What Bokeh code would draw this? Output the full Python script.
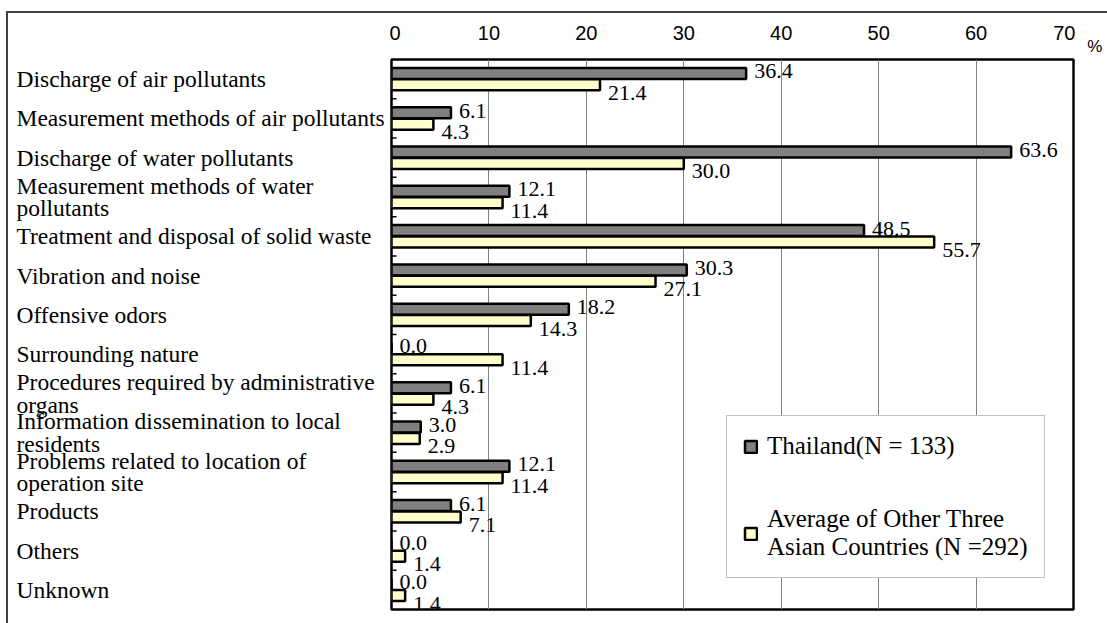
from bokeh.plotting import figure
from bokeh.models import (ColumnDataSource, Range1d, FixedTicker, LabelSet,
                          Legend, LegendItem, LinearAxis, Grid)
from bokeh.layouts import row
from bokeh.transform import dodge
from bokeh.core.properties import value
from bokeh.embed import file_html
from bokeh.resources import INLINE

# Survey items (top to bottom)
categories = [
    "Discharge of air pollutants",
    "Measurement methods of air pollutants",
    "Discharge of water pollutants",
    "Measurement methods of water\npollutants",
    "Treatment and disposal of solid waste",
    "Vibration and noise",
    "Offensive odors",
    "Surrounding nature",
    "Procedures required by administrative\norgans",
    "Information dissemination to local\nresidents",
    "Problems related to location of\noperation site",
    "Products",
    "Others",
    "Unknown",
]
# Share of respondents, %
thailand = [36.4, 6.1, 63.6, 12.1, 48.5, 30.3, 18.2, 0.0, 6.1, 3.0, 12.1, 6.1, 0.0, 0.0]
other_three = [21.4, 4.3, 30.0, 11.4, 55.7, 27.1, 14.3, 11.4, 4.3, 2.9, 11.4, 7.1, 1.4, 1.4]
x_ticks = [0, 10, 20, 30, 40, 50, 60, 70]
unit_label = "%"

thai_name = "Thailand(N = 133)"
other_name = "Average of Other Three\nAsian Countries (N =292)"

serif = "Liberation Serif"
sans = "Liberation Sans Narrow, Liberation Sans"
H = 610
n = len(categories)
src = ColumnDataSource(dict(
    pos=[i + 0.5 for i in range(n)],
    cat=categories,
    thai=thailand,
    other=other_three,
    thai_txt=[f"{v:.1f}" for v in thailand],
    other_txt=[f"{v:.1f}" for v in other_three],
))
bounds = ColumnDataSource(dict(b=list(range(1, n))))

y_range = Range1d(n, 0)
TOP, BOTTOM = 46, 14


def bare_axis(ax, standoff, size):
    ax.axis_line_color = None
    ax.major_tick_line_color = None
    ax.major_tick_in = 0
    ax.major_tick_out = 0
    ax.minor_tick_line_color = None
    ax.major_label_standoff = standoff
    ax.major_label_text_font = sans
    ax.major_label_text_font_size = size
    ax.major_label_text_color = "black"
    return ax


# ---- item names column (left aligned) ----
names = figure(width=381, height=H, output_backend="svg", toolbar_location=None,
               x_range=Range1d(0, 1), y_range=y_range,
               x_axis_location=None, y_axis_location=None,
               min_border_left=0, min_border_right=0,
               min_border_top=TOP, min_border_bottom=BOTTOM)
names.grid.visible = False
names.outline_line_color = None
names.text(x=0, y="pos", text="cat", source=src, x_offset=8,
           text_align="left", text_baseline="middle", text_line_height=0.87,
           text_font=value(serif), text_font_size="23.5px", text_color="black")

# ---- bar chart ----
p = figure(width=686, height=H, output_backend="svg", toolbar_location=None,
           x_range=Range1d(0, 70), y_range=y_range,
           x_axis_location=None, y_axis_location=None,
           min_border_left=2, min_border_top=TOP, min_border_right=2,
           min_border_bottom=BOTTOM)
p.grid.visible = False
p.background_fill_color = "white"
p.outline_line_color = "black"
p.outline_line_width = 2.5

# value axis along the top
p.add_layout(bare_axis(LinearAxis(ticker=FixedTicker(ticks=x_ticks)), 20, "20px"), "above")

p.add_layout(Grid(dimension=0, ticker=FixedTicker(ticks=x_ticks[1:-1]),
                  grid_line_color="#808080", grid_line_width=1))

# short ticks on the left edge between items
p.ray(x=0, y="b", source=bounds, length=5, length_units="screen", angle=0,
      line_color="black", line_width=1.5)

r_thai = p.hbar(y=dodge("pos", -0.145, range=y_range), right="thai", left=0, height=0.28,
                source=src, fill_color="#808080", line_color="black", line_width=2.5)
r_other = p.hbar(y=dodge("pos", 0.145, range=y_range), right="other", left=0, height=0.28,
                 source=src, fill_color="#FFFFCC", line_color="black", line_width=2.5)

# value labels
p.add_layout(LabelSet(x="thai", y=dodge("pos", -0.145, range=y_range), text="thai_txt",
                      source=src, x_offset=8, y_offset=2, text_baseline="middle",
                      text_font=serif, text_font_size="22px", text_color="black"))
p.add_layout(LabelSet(x="other", y=dodge("pos", 0.145, range=y_range), text="other_txt",
                      source=src, x_offset=8, y_offset=-8, text_baseline="middle",
                      text_font=serif, text_font_size="22px", text_color="black"))

legend = Legend(items=[LegendItem(label=thai_name, renderers=[r_thai]),
                       LegendItem(label=other_name, renderers=[r_other])],
                location=(335, 31))
legend.border_line_color = "#808080"
legend.border_line_width = 1
legend.background_fill_color = "white"
legend.background_fill_alpha = 1
legend.padding = 16
legend.spacing = 45
legend.glyph_width = 15
legend.glyph_height = 15
legend.label_standoff = 9
legend.label_text_font = serif
legend.label_text_font_size = "25px"
legend.label_text_line_height = 1.62
legend.label_text_color = "black"
p.add_layout(legend)

# ---- unit marker beside the top right corner ----
unit = figure(width=32, height=H, output_backend="svg", toolbar_location=None,
              x_range=Range1d(0, 1), y_range=y_range,
              x_axis_location=None, y_axis_location=None,
              min_border_left=0, min_border_right=0,
              min_border_top=TOP, min_border_bottom=BOTTOM)
unit.grid.visible = False
unit.outline_line_color = None
unit.add_layout(bare_axis(LinearAxis(ticker=FixedTicker(ticks=[0.6]),
                                     major_label_overrides={0.6: unit_label}),
                          4, "17px"), "above")

page = row(names, p, unit)
page.styles = {"margin-left": "6px", "margin-top": "11px",
               "border-left": "2px solid #404040", "border-top": "2px solid #404040"}

open("out.html", "w").write(file_html(page, INLINE))
